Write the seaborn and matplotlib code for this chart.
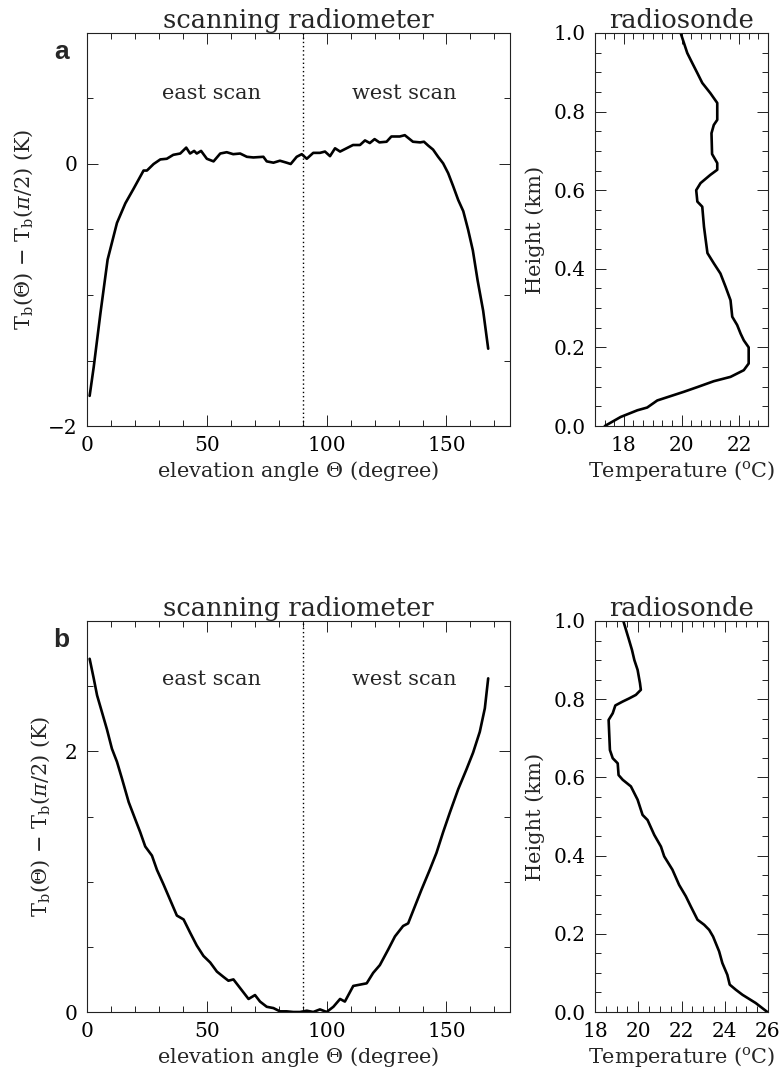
import numpy as np
import matplotlib
matplotlib.use("Agg")
import matplotlib.pyplot as plt
import seaborn as sns
from matplotlib.ticker import MultipleLocator

sns.set_style("ticks")
plt.rcParams['font.family'] = ['DejaVu Serif']
plt.rcParams['mathtext.fontset'] = 'dejavuserif'

# ---------------- data: panel a ----------------
angle_a = [1.1, 2.8, 5.6, 8.6, 12.5, 16, 19.4, 23.6, 25, 27.8, 30.6, 33.3, 36, 38.9, 41.4,
           43, 44.7, 45.8, 47.6, 50, 52.8, 55.6, 58.3, 61, 63.9, 66.7, 69.4, 73.6, 75,
           77.8, 80.5, 83.3, 85, 87.5, 89.6, 91.7, 94.4, 97.2, 99.3, 101.4, 103.5, 105.6,
           108.3, 111, 113.9, 116, 118, 120, 122, 125, 127, 130.5, 132.6, 136, 139, 140.6,
           142.4, 144.4, 146.5, 148.6, 150.7, 152.8, 154.9, 157, 159, 161, 163, 165.3, 167.4]
dtb_a = [-1.77, -1.55, -1.14, -0.73, -0.45, -0.30, -0.19, -0.05, -0.05, 0.0, 0.035, 0.04,
         0.07, 0.08, 0.125, 0.08, 0.1, 0.08, 0.1, 0.04, 0.02, 0.08, 0.09, 0.075, 0.08,
         0.055, 0.05, 0.055, 0.02, 0.01, 0.025, 0.01, 0.0, 0.055, 0.075, 0.04, 0.085,
         0.085, 0.095, 0.06, 0.12, 0.095, 0.12, 0.145, 0.145, 0.18, 0.16, 0.19, 0.165,
         0.17, 0.21, 0.21, 0.22, 0.17, 0.165, 0.17, 0.14, 0.11, 0.055, 0.005, -0.07,
         -0.17, -0.275, -0.36, -0.5, -0.66, -0.89, -1.12, -1.41]

temp_a = [17.34, 17.89, 18.47, 18.81, 19.16, 19.62, 20.08, 20.55, 21.12, 21.7, 22.16,
          22.33, 22.33, 22.16, 22.05, 21.93, 21.76, 21.7, 21.53, 21.35, 21.12, 20.9,
          20.84, 20.78, 20.72, 20.55, 20.51, 20.66, 21.0, 21.24, 21.24, 21.06, 21.04,
          21.12, 21.24, 21.24, 21.0, 20.72, 20.55, 20.37, 20.2, 19.97]
height_a = [0.0, 0.023, 0.04, 0.047, 0.065, 0.076, 0.087, 0.099, 0.114, 0.125, 0.142,
            0.159, 0.2, 0.218, 0.235, 0.257, 0.278, 0.32, 0.354, 0.388, 0.414, 0.44,
            0.473, 0.507, 0.558, 0.571, 0.6, 0.618, 0.639, 0.652, 0.669, 0.692, 0.745,
            0.766, 0.779, 0.822, 0.847, 0.873, 0.898, 0.924, 0.949, 1.0]

# ---------------- data: panel b ----------------
angle_b = [1.1, 2.8, 4.2, 6.25, 8.3, 10.4, 12.5, 14.6, 17.4, 20.1, 22.2, 24.3, 27.1, 29.2,
           31.9, 34.7, 37.5, 40.3, 43, 45.8, 48.6, 51.4, 54.2, 56.9, 59, 61.1, 63.2, 65.3,
           67.4, 70.1, 72.2, 75, 77.8, 80.5, 83.3, 86.1, 88.9, 91.7, 94.4, 97.2, 100,
           102.8, 105.6, 107.6, 111.1, 113.9, 116.7, 119.4, 122.2, 125.7, 128.5, 131.9,
           134, 136.8, 139.6, 143, 145.8, 148.6, 151.4, 154.9, 158.3, 161.1, 163.9, 166,
           167.4]
dtb_b = [2.71, 2.56, 2.43, 2.3, 2.17, 2.02, 1.92, 1.79, 1.61, 1.48, 1.38, 1.27, 1.2, 1.09,
         0.98, 0.86, 0.74, 0.71, 0.61, 0.51, 0.43, 0.38, 0.31, 0.27, 0.24, 0.25, 0.2, 0.15,
         0.1, 0.13, 0.08, 0.04, 0.03, 0.005, 0.005, 0.0, 0.0, 0.01, 0.0, 0.02, 0.0, 0.04,
         0.1, 0.08, 0.2, 0.21, 0.22, 0.3, 0.36, 0.48, 0.58, 0.66, 0.68, 0.81, 0.94, 1.09,
         1.22, 1.38, 1.53, 1.71, 1.86, 1.99, 2.15, 2.33, 2.56]

temp_b = [25.97, 25.43, 24.82, 24.51, 24.23, 24.12, 23.89, 23.74, 23.46, 23.28, 23.05,
          22.74, 22.43, 22.2, 21.89, 21.58, 21.2, 21.05, 20.74, 20.43, 20.2, 19.97, 19.66,
          19.28, 19.09, 19.05, 18.82, 18.69, 18.63, 18.82, 18.94, 19.28, 19.58, 19.89,
          20.12, 20.08, 19.97, 19.82, 19.71, 19.55, 19.31]
height_b = [0.0, 0.023, 0.044, 0.057, 0.07, 0.095, 0.125, 0.155, 0.193, 0.21, 0.223,
            0.236, 0.27, 0.296, 0.325, 0.364, 0.398, 0.423, 0.453, 0.491, 0.504, 0.543,
            0.577, 0.594, 0.606, 0.636, 0.649, 0.67, 0.747, 0.764, 0.784, 0.794, 0.802,
            0.811, 0.824, 0.841, 0.875, 0.9, 0.926, 0.956, 1.0]

scan_title = "scanning radiometer"
sonde_title = "radiosonde"
xlabel_scan = r"elevation angle $\Theta$ (degree)"
ylabel_scan = r"T$_\mathrm{b}$($\Theta$) $-$ T$_\mathrm{b}$($\pi$/2) (K)"
xlabel_sonde = r"Temperature ($^\mathrm{o}$C)"
ylabel_sonde = "Height (km)"

W, H = 781, 1072
fig = plt.figure(figsize=(W / 100, H / 100), dpi=100)

def box(l, t, r, b):
    return [l / W, 1 - b / H, (r - l) / W, (b - t) / H]

ax_a = fig.add_axes(box(87, 33, 510, 426))
ax_ar = fig.add_axes(box(595, 33, 768, 426))
ax_b = fig.add_axes(box(87, 621, 510, 1012))
ax_br = fig.add_axes(box(595, 621, 768, 1012))

TICK_FS = 14.5
FS = 15
TFS = 18.5
LW = 1.9

def style(ax):
    for s in ax.spines.values():
        s.set_linewidth(0.8)
        s.set_color("#222222")
    ax.tick_params(which="both", direction="in", top=True, right=True,
                   labelsize=TICK_FS, width=0.7, colors="#222222", labelcolor="black")
    ax.tick_params(which="major", length=8, pad=7)
    ax.tick_params(which="minor", length=4)

def scan_panel(ax, x, y, ylim, ymajor, letter, text_y):
    sns.lineplot(x=x, y=y, ax=ax, color="black", linewidth=LW, sort=False, estimator=None)
    ax.axvline(90, color="black", linestyle=(0, (1, 2)), linewidth=1.0)
    ax.set_xlim(0, 176.5)
    ax.set_ylim(*ylim)
    ax.xaxis.set_major_locator(MultipleLocator(50))
    ax.xaxis.set_minor_locator(MultipleLocator(10))
    ax.yaxis.set_major_locator(MultipleLocator(ymajor))
    ax.yaxis.set_minor_locator(MultipleLocator(0.5))
    ax.set_xlabel(xlabel_scan, fontsize=FS, labelpad=3)
    ax.set_ylabel(ylabel_scan, fontsize=FS, labelpad=9)
    ax.set_title(scan_title, fontsize=TFS, pad=3)
    ax.text(52, text_y, "east scan", fontsize=FS, ha="center", va="center")
    ax.text(132.5, text_y, "west scan", fontsize=FS, ha="center", va="center")
    ax.text(-0.06, 0.952, letter, transform=ax.transAxes, fontsize=19,
            fontweight="bold", family="Liberation Sans", ha="center", va="center")
    style(ax)

def sonde_panel(ax, t, h, xlim, xmajor, xminor):
    sns.lineplot(x=t, y=h, ax=ax, color="black", linewidth=LW, sort=False,
                 estimator=None, orient="y")
    ax.set_xlim(*xlim)
    ax.set_ylim(0, 1.0)
    ax.xaxis.set_major_locator(MultipleLocator(xmajor))
    ax.xaxis.set_minor_locator(MultipleLocator(xminor))
    ax.yaxis.set_major_locator(MultipleLocator(0.2))
    ax.yaxis.set_minor_locator(MultipleLocator(0.05))
    ax.yaxis.set_major_formatter(matplotlib.ticker.FormatStrFormatter("%.1f"))
    ax.set_xlabel(xlabel_sonde, fontsize=FS, labelpad=3)
    ax.set_ylabel(ylabel_sonde, fontsize=FS, labelpad=6)
    ax.set_title(sonde_title, fontsize=TFS, pad=3)
    style(ax)

scan_panel(ax_a, angle_a, dtb_a, (-2, 1), 2, "a", 0.54)
scan_panel(ax_b, angle_b, dtb_b, (0, 3), 2, "b", 2.55)
sonde_panel(ax_ar, temp_a, height_a, (17, 23), 2, 1 / 3)
sonde_panel(ax_br, temp_b, height_b, (18, 26), 2, 0.5)

fig.savefig("out.png", dpi=100)
